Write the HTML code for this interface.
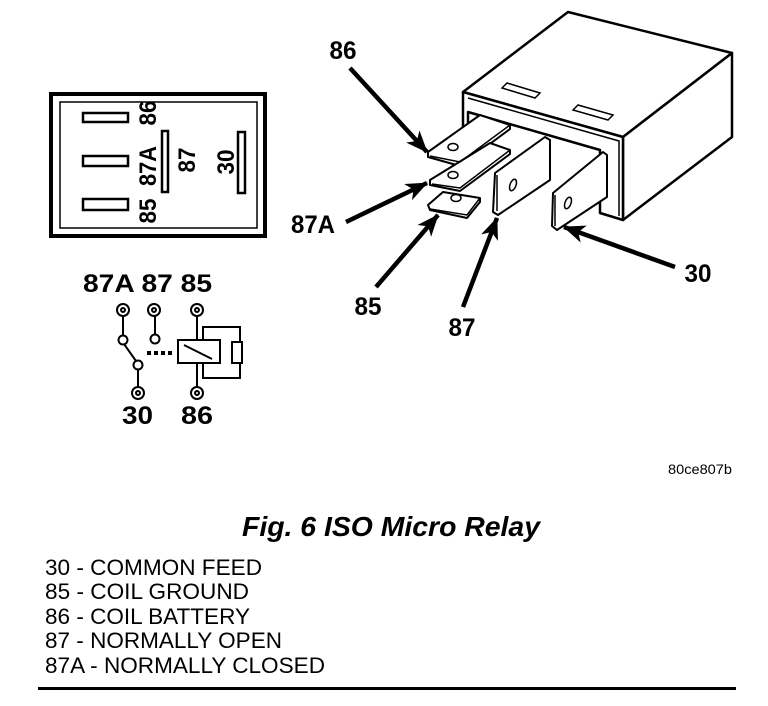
<!DOCTYPE html>
<html><head><meta charset="utf-8"><style>
html,body{margin:0;padding:0;background:#fff;}
svg{display:block;}
.b{font-family:"Liberation Sans",Arial,sans-serif;font-weight:bold;fill:#000;}
.r{font-family:"Liberation Sans",Arial,sans-serif;fill:#000;}
</style></head><body>
<svg width="768" height="706" viewBox="0 0 768 706" xmlns="http://www.w3.org/2000/svg">
<defs>
<marker id="ah" markerWidth="22" markerHeight="18" refX="21" refY="9" orient="auto" markerUnits="userSpaceOnUse">
<path d="M0,0 L22,9 L0,18 L6,9 Z" fill="#000"/>
</marker>
</defs>
<!-- pin-view box -->
<rect x="51" y="94" width="214" height="142" fill="none" stroke="#000" stroke-width="4"/>
<rect x="60" y="102" width="197" height="126" fill="none" stroke="#000" stroke-width="1.5"/>
<g fill="none" stroke="#000" stroke-width="2.5">
<rect x="83" y="113" width="45" height="9"/>
<rect x="83" y="156" width="45" height="10"/>
<rect x="83" y="199" width="45" height="11"/>
<rect x="162" y="131" width="6" height="61"/>
<rect x="238" y="132" width="7" height="61"/>
</g>
<g class="b" font-size="24">
<text transform="translate(156,113) rotate(-90)" text-anchor="middle" textLength="25" lengthAdjust="spacingAndGlyphs">86</text>
<text transform="translate(156,166) rotate(-90)" text-anchor="middle" textLength="40" lengthAdjust="spacingAndGlyphs">87A</text>
<text transform="translate(156,211) rotate(-90)" text-anchor="middle" textLength="25" lengthAdjust="spacingAndGlyphs">85</text>
<text transform="translate(195,160) rotate(-90)" text-anchor="middle" textLength="25" lengthAdjust="spacingAndGlyphs">87</text>
<text transform="translate(234,162) rotate(-90)" text-anchor="middle" textLength="25" lengthAdjust="spacingAndGlyphs">30</text>
</g>
<!-- schematic -->
<g class="b" font-size="25">
<text x="83" y="292" textLength="129" lengthAdjust="spacingAndGlyphs">87A 87 85</text>
<text x="122" y="424" textLength="31" lengthAdjust="spacingAndGlyphs">30</text>
<text x="181" y="424" textLength="32" lengthAdjust="spacingAndGlyphs">86</text>
</g>
<g fill="none" stroke="#000" stroke-width="2">
<line x1="123" y1="316" x2="123" y2="336"/>
<line x1="155" y1="316" x2="155" y2="335"/>
<line x1="124" y1="344" x2="136" y2="361"/>
<line x1="138" y1="370" x2="138" y2="387"/>
<line x1="197" y1="316" x2="197" y2="341"/>
<line x1="197" y1="362" x2="197" y2="387"/>
<polyline points="203,341 203,327 240,327 240,342"/>
<polyline points="240,363 240,378 203,378 203,362"/>
<rect x="232" y="342" width="10" height="21"/>
<rect x="178" y="340" width="42" height="23"/>
<line x1="184" y1="345" x2="212" y2="359"/>
<circle cx="123" cy="310" r="6"/><circle cx="123" cy="310" r="2"/>
<circle cx="154" cy="310" r="6"/><circle cx="154" cy="310" r="2"/>
<circle cx="197" cy="310" r="6"/><circle cx="197" cy="310" r="2"/>
<circle cx="138" cy="393" r="6"/><circle cx="138" cy="393" r="2"/>
<circle cx="197" cy="393" r="6"/><circle cx="197" cy="393" r="2"/>
<circle cx="123" cy="340" r="4.5"/>
<circle cx="155" cy="339" r="4.5"/>
<circle cx="138" cy="365" r="4.5"/>
</g>
<g fill="#000"><rect x="147" y="351" width="4" height="4"/><rect x="154" y="351" width="4" height="4"/><rect x="161" y="351" width="4" height="4"/><rect x="168" y="351" width="4" height="4"/></g>
<!-- relay body -->
<g fill="#fff" stroke="#000" stroke-width="2.5" stroke-linejoin="round">
<polygon points="463,92 568,12 732,53 623,137"/>
<polygon points="623,137 732,53 732,137 623,220"/>
<polygon points="463,92 623,137 623,220 600,213 600,150 468,112 468,127 463,127"/>
</g>
<g fill="none" stroke="#000" stroke-width="1.5">
<polyline points="468,98 619,141 619,216"/>
<polygon points="502,88 507,83 540,93 535,98"/>
<polygon points="573,110 578,105 613,115 608,120"/>
</g>
<!-- terminals -->
<g fill="#fff" stroke="#000" stroke-width="2" stroke-linejoin="round">
<polygon points="428,152 480,115 510,125 510,129 460,166 428,157"/>
<polygon points="430,180 490,143 510,150 510,154 460,191 430,185"/>
<polygon points="428,205 443,192 480,198 480,202 467,218 430,210"/>
<polygon points="495,173 545,137 550,140 550,180 498,215 493,212"/>
<polygon points="553,193 603,152 607,155 607,197 557,230 552,226"/>
</g>
<g fill="none" stroke="#000" stroke-width="1.5">
<polyline points="430,156 460,162 510,125"/>
<polyline points="432,184 460,188 510,150"/>
<polyline points="430,209 467,215 480,198"/>
<line x1="497" y1="175" x2="497" y2="211"/>
<line x1="555" y1="195" x2="555" y2="226"/>
<ellipse cx="453" cy="147" rx="5" ry="3.5"/>
<ellipse cx="453" cy="175" rx="5" ry="3.5"/>
<ellipse cx="456" cy="198" rx="5" ry="3.5"/>
<ellipse cx="513" cy="185" rx="3" ry="6" transform="rotate(20 513 185)"/>
<ellipse cx="568" cy="203" rx="3" ry="6" transform="rotate(20 568 203)"/>
</g>
<!-- arrows -->
<g stroke="#000" stroke-width="4.5" fill="none">
<line x1="350" y1="68" x2="427" y2="152" marker-end="url(#ah)"/>
<line x1="346" y1="222" x2="427" y2="183" marker-end="url(#ah)"/>
<line x1="376" y1="287" x2="438" y2="215" marker-end="url(#ah)"/>
<line x1="463" y1="307" x2="497" y2="218" marker-end="url(#ah)"/>
<line x1="675" y1="267" x2="564" y2="227" marker-end="url(#ah)"/>
</g>
<g class="b" font-size="25">
<text x="343" y="59" text-anchor="middle" textLength="27" lengthAdjust="spacingAndGlyphs">86</text>
<text x="313" y="233" text-anchor="middle" textLength="44" lengthAdjust="spacingAndGlyphs">87A</text>
<text x="368" y="315" text-anchor="middle" textLength="27" lengthAdjust="spacingAndGlyphs">85</text>
<text x="462" y="336" text-anchor="middle" textLength="27" lengthAdjust="spacingAndGlyphs">87</text>
<text x="698" y="282" text-anchor="middle" textLength="27" lengthAdjust="spacingAndGlyphs">30</text>
</g>
<text class="r" x="668" y="474" font-size="14" textLength="64" lengthAdjust="spacingAndGlyphs">80ce807b</text>
<text class="b" x="242" y="536" font-size="28" font-style="italic" textLength="298" lengthAdjust="spacingAndGlyphs">Fig. 6 ISO Micro Relay</text>
<g class="r" font-size="22">
<text x="45" y="575" textLength="217" lengthAdjust="spacingAndGlyphs">30 - COMMON FEED</text>
<text x="45" y="599" textLength="204" lengthAdjust="spacingAndGlyphs">85 - COIL GROUND</text>
<text x="45" y="624" textLength="205" lengthAdjust="spacingAndGlyphs">86 - COIL BATTERY</text>
<text x="45" y="648" textLength="237" lengthAdjust="spacingAndGlyphs">87 - NORMALLY OPEN</text>
<text x="45" y="673" textLength="280" lengthAdjust="spacingAndGlyphs">87A - NORMALLY CLOSED</text>
</g>
<rect x="38" y="687" width="698" height="3" fill="#000"/>
</svg>
</body></html>
